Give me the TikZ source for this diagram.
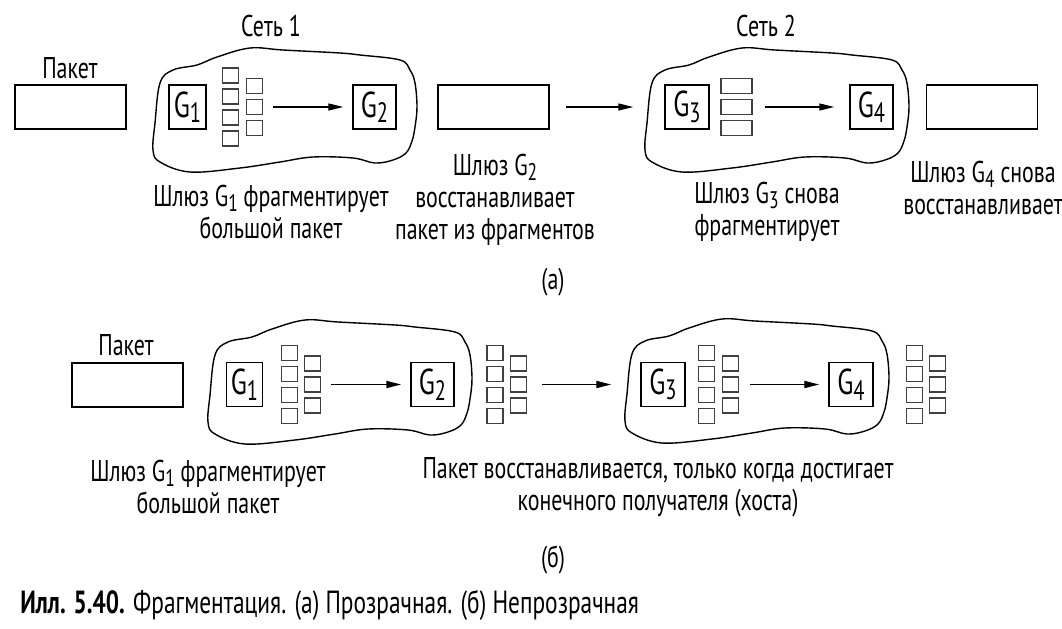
\documentclass[tikz,border=0pt]{standalone}
\usepackage{fontspec}
\setmainfont{PT Sans}[FakeStretch=0.73]
\usetikzlibrary{arrows.meta}
\newcommand{\lo}[2]{\raisebox{-0.3ex}{\fontsize{#1}{#1}\selectfont #2}}
\newcommand{\netcloud}[2]{\draw[cloud, shift={(#1,#2)}] plot[smooth cycle, tension=0.6] coordinates {(10,35) (23,22) (47,17) (67,9) (100,0) (133,2) (190,5) (210,7) (250,12) (260,22) (265,35) (267,59) (265,79) (262,93) (256,105) (243,112) (225,115) (203,110) (163,109) (130,114) (90,120) (40,124) (10,114) (3,102) (5,75)};}

\begin{document}
\begin{tikzpicture}[x=0.5pt,y=-0.5pt,
	every node/.style={font=\fontsize{15}{16}\selectfont},
	pkt/.style={draw, line width=0.7pt, minimum width=55.5pt, minimum height=22pt, inner sep=0pt},
	gw/.style={draw, line width=0.7pt, minimum height=22pt, inner sep=0pt, font=\fontsize{18}{18}\selectfont},
	frag/.style={draw=black!75, line width=0.6pt, minimum width=8pt, minimum height=7.5pt, inner sep=0pt},
	wfrag/.style={frag, minimum width=15.5pt},
	flow/.style={-{Triangle[length=7.5pt,width=3.5pt]}, line width=0.6pt},
	cloud/.style={line width=0.7pt},
	lbl/.style={align=center, inner sep=0pt}]
	\useasboundingbox (0,0) rectangle (1062,628);
	
	% (a)
	\node   (net1) at (271,26) {Сеть 1};
	\node   (net2) at (766,26) {Сеть 2};
	\node   (pkta) at (70,68) {Пакет};
	\node	(pa) at (70.5,107) [pkt] {};
	\netcloud{150}{48}
	\node	(g1) at (187.5,107) [gw, minimum width=18.5pt] {G\lo{14}{1}};
	\node	(fa1) at (230.5,75.5) [frag] {};
	\node	(fa2) at (230.5,96.5) [frag] {};
	\node	(fa3) at (230.5,117.5) [frag] {};
	\node	(fa4) at (230.5,138.5) [frag] {};
	\node	(fa5) at (254.5,86) [frag] {};
	\node	(fa6) at (254.5,107) [frag] {};
	\node	(fa7) at (254.5,128) [frag] {};
	\node	(g2) at (374.5,107) [gw, minimum width=21.5pt] {G\lo{14}{2}};
	\node	(pb) at (493.5,107) [pkt] {};
	\netcloud{642}{48}
	\node	(g3) at (687,107) [gw, minimum width=22pt] {G\lo{14}{3}};
	\node	(wa1) at (736.5,86) [wfrag] {};
	\node	(wa2) at (736.5,107) [wfrag] {};
	\node	(wa3) at (736.5,128) [wfrag] {};
	\node	(g4) at (871.5,107) [gw, minimum width=21.5pt] {G\lo{14}{4}};
	\node	(pc) at (982,107) [pkt] {};
	
	\draw 
	(fa6) edge[flow, shorten <=5pt, shorten >=4.5pt] (g2)
	(pb) edge[flow, shorten <=8pt, shorten >=15.5pt] (g3)
	(wa2) edge[flow, shorten <=6pt, shorten >=7.5pt] (g4)
	;
	
	\node   (la1) at (271,212) [lbl] {Шлюз G\lo{12}{1} фрагментирует\\большой пакет};
	\node   (la2) at (495,200) [lbl] {Шлюз G\lo{12}{2}\\восстанавливает\\пакет из фрагментов};
	\node   (la3) at (767,212) [lbl] {Шлюз G\lo{12}{3} снова\\фрагментирует};
	\node   (la4) at (983,188) [lbl] {Шлюз G\lo{12}{4} снова\\восстанавливает};
	\node   (capa) at (553,282) {(а)};
	
	% (b)
	\node   (pktb) at (126,345) {Пакет};
	\node	(qa) at (127.5,385) [pkt, line width=0.9pt] {};
	\netcloud{205}{320}
	\node	(h1) at (244.5,384.5) [gw, minimum width=18pt] {G\lo{14}{1}};
	\node	(fb1) at (289.5,353) [frag] {};
	\node	(fb2) at (289.5,374) [frag] {};
	\node	(fb3) at (289.5,395) [frag] {};
	\node	(fb4) at (289.5,416) [frag] {};
	\node	(fb5) at (312.5,363.5) [frag] {};
	\node	(fb6) at (312.5,384.5) [frag] {};
	\node	(fb7) at (312.5,405.5) [frag] {};
	\node	(h2) at (432.5,384.5) [gw, minimum width=21.5pt] {G\lo{14}{2}};
	\node	(fm1) at (495,353) [frag] {};
	\node	(fm2) at (495,374) [frag] {};
	\node	(fm3) at (495,395) [frag] {};
	\node	(fm4) at (495,416) [frag] {};
	\node	(fm5) at (518.5,363.5) [frag] {};
	\node	(fm6) at (518.5,384.5) [frag] {};
	\node	(fm7) at (518.5,405.5) [frag] {};
	\netcloud{622}{319}
	\node	(h3) at (663,384.5) [gw, minimum width=22pt] {G\lo{14}{3}};
	\node	(fc1) at (706.5,353) [frag] {};
	\node	(fc2) at (706.5,374) [frag] {};
	\node	(fc3) at (706.5,395) [frag] {};
	\node	(fc4) at (706.5,416) [frag] {};
	\node	(fc5) at (730.5,363.5) [frag] {};
	\node	(fc6) at (730.5,384.5) [frag] {};
	\node	(fc7) at (730.5,405.5) [frag] {};
	\node	(h4) at (851,384.5) [gw, minimum width=22pt] {G\lo{14}{4}};
	\node	(fd1) at (914.5,353) [frag] {};
	\node	(fd2) at (914.5,374) [frag] {};
	\node	(fd3) at (914.5,395) [frag] {};
	\node	(fd4) at (914.5,416) [frag] {};
	\node	(fd5) at (937.5,363.5) [frag] {};
	\node	(fd6) at (937.5,384.5) [frag] {};
	\node	(fd7) at (937.5,405.5) [frag] {};
	
	\draw 
	(fb6) edge[flow, line width=0.9pt, shorten <=5pt, shorten >=4.5pt] (h2)
	(fm6) edge[flow, line width=0.9pt, shorten <=7.5pt, shorten >=14.5pt] (h3)
	(fc6) edge[flow, line width=0.9pt, shorten <=5.5pt, shorten >=4.5pt] (h4)
	;
	
	\node   (lb1) at (208,487) [lbl] {Шлюз G\lo{12}{1} фрагментирует\\большой пакет};
	\node   (lb2) at (658,487) [lbl] {Пакет восстанавливается, только когда достигает\\конечного получателя (хоста)};
	\node   (capb) at (553,560) {(б)};
	
	\node   (cap) at (20,605) [anchor=west, inner sep=0pt, font=\fontsize{16}{18}\selectfont] {\textbf{Илл. 5.40.} Фрагментация. (а) Прозрачная. (б) Непрозрачная};
\end{tikzpicture}
\end{document}
